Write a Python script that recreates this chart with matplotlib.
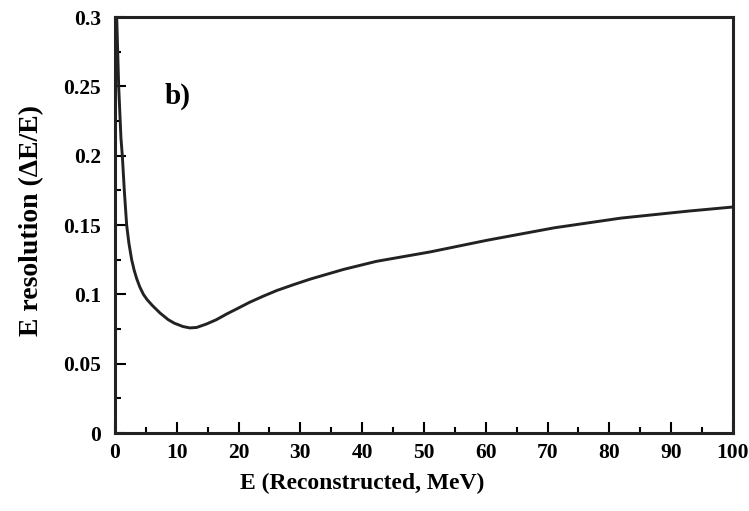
import matplotlib
matplotlib.use("Agg")
from matplotlib import pyplot as plt
from matplotlib.ticker import MultipleLocator, FormatStrFormatter

# curve
energy = [0.28, 0.6, 0.97, 1.19, 1.51, 1.89, 2.25, 2.7, 3.1, 3.5, 4.0, 4.6, 5.2, 6.0,
          7.3, 8.6, 9.6, 11.0, 12.1, 13.2, 14.8, 16.4, 18.1, 19.7, 21.8, 24.0, 26.2,
          28.9, 31.6, 37.0, 42.3, 51.0, 60.2, 71.1, 81.9, 92.7, 100.0]
resolution = [0.30, 0.25, 0.2125, 0.20, 0.175, 0.150, 0.137, 0.125, 0.1175, 0.1115,
              0.1055, 0.100, 0.0962, 0.0922, 0.0865, 0.0818, 0.0792, 0.0768, 0.0758,
              0.0761, 0.0786, 0.0817, 0.0859, 0.0895, 0.0943, 0.0987, 0.1028, 0.107,
              0.111, 0.118, 0.1238, 0.1306, 0.139, 0.148, 0.155, 0.160, 0.163]

plt.rcParams['font.family'] = ['Liberation Serif', 'DejaVu Serif']
plt.rcParams['font.weight'] = 'bold'

fig = plt.figure(figsize=(7.49, 5.11), dpi=100)
ax = fig.add_axes([0.1535, 0.1526, 0.8251, 0.8141])
ax.plot(energy, resolution, color='#222222', lw=2.1, solid_joinstyle='round')

ax.set_xlim(0, 100)
ax.set_ylim(0, 0.3)
ax.xaxis.set_major_locator(MultipleLocator(10))
ax.xaxis.set_minor_locator(MultipleLocator(5))
ax.yaxis.set_major_locator(MultipleLocator(0.05))
ax.yaxis.set_minor_locator(MultipleLocator(0.025))
ax.yaxis.set_major_formatter(FormatStrFormatter('%g'))
ax.tick_params(which='both', direction='in', top=False, right=False, labelsize=15.5, width=1.5)
ax.tick_params(axis='x', pad=7)
ax.tick_params(axis='y', pad=10)
ax.tick_params(which='major', length=8)
ax.tick_params(which='minor', length=4)
for s in ax.spines.values():
    s.set_linewidth(2.2)
    s.set_color('#222222')

ax.set_xlabel('E (Reconstructed, MeV)', fontsize=17, fontweight='bold')
ax.xaxis.set_label_coords(0.40, -0.122)
ax.xaxis.label.set_va('center')
ax.set_ylabel('E resolution (ΔE/E)', fontsize=20, fontweight='bold')
ax.yaxis.set_label_coords(-0.135, 0.51)
ax.yaxis.label.set_va('center')
ax.text(0.081, 0.81, 'b)', transform=ax.transAxes, fontsize=21, fontweight='bold', va='center')

fig.savefig('out.png', dpi=100)
